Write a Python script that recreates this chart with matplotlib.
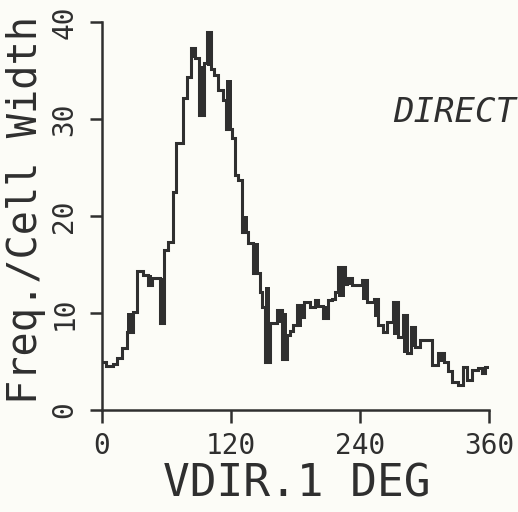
import matplotlib.pyplot as plt

# step histogram (degrees / freq per cell width)
edges = [0, 3.5, 10, 14, 18.5, 23.5, 29, 32.5, 38, 43, 46.5, 54, 57.5, 61.5,
         66, 69, 75.5, 79, 83, 86.5, 90, 95, 97.5, 101.5, 104, 108, 112.5,
         115.5, 121, 123.5, 126.5, 130, 136, 140.5, 147, 149, 151.5, 156.5,
         163, 167.5, 172, 175, 177.5, 181.5, 186, 188, 193.5, 198, 201, 205.5,
         210, 214, 216.5, 219.5, 226, 228, 232.5, 242, 246.5, 253, 256.5,
         261.5, 265, 270.5, 275.5, 280, 283.5, 287.5, 291, 296, 307, 312.5,
         318, 322, 325.5, 331, 336, 339.5, 344, 350, 353.5, 356.5, 360]
freq = [5.0, 4.5, 4.8, 5.4, 6.4, 8.0, 10.1, 14.3, 13.9, 12.9, 13.6, 9.0, 16.5,
        17.3, 22.5, 27.5, 32.2, 34.3, 37.3, 36.3, 30.4, 35.8, 39.0, 35.2, 34.5,
        33.0, 32.0, 29.0, 28.0, 24.2, 23.7, 18.4, 17.2, 14.1, 12.2, 10.6, 5.0,
        9.0, 10.3, 5.3, 7.7, 8.2, 8.8, 10.8, 9.6, 11.1, 10.6, 11.3, 10.7, 9.5,
        11.3, 11.5, 12.2, 14.7, 13.0, 13.6, 12.9, 13.4, 11.1, 11.5, 8.8, 8.0,
        9.1, 11.1, 7.5, 9.8, 5.9, 8.6, 6.5, 7.2, 4.6, 5.9, 5.0, 4.0, 2.9, 2.6,
        4.4, 3.1, 4.1, 4.3, 3.8, 4.4]

# places where the pen went back and forth (drawn solid)
dense_left = [23.5, 43, 54, 83, 90, 97.5, 115.5, 130, 140.5, 151.5, 163,
              167.5, 181.5, 198, 205.5, 219.5, 228, 242, 253, 270.5, 280,
              287.5, 312.5]
dense_right = [29, 46.5, 57.5, 86.5, 95, 101.5, 121, 136, 146, 156.5, 167.5,
               172, 186, 201, 210, 226, 232.5, 246.5, 256.5, 275.5, 283.5,
               291, 318]
dense_low = [8.0, 12.9, 9.0, 36.3, 30.4, 35.5, 29.0, 18.4, 14.2, 5.0, 9.0,
             5.3, 8.6, 10.7, 9.5, 11.7, 12.9, 11.3, 9.6, 7.7, 5.9, 6.5, 5.0]
dense_high = [10.0, 13.9, 13.6, 37.3, 35.5, 39.0, 34.0, 20.0, 17.2, 12.7,
              10.3, 10.0, 10.8, 11.3, 10.7, 14.7, 13.6, 13.4, 11.5, 11.1,
              9.8, 8.6, 5.9]

xticks = [0, 120, 240, 360]
yticks = [0, 10, 20, 30, 40]

ink = "#2f2f2f"
paper = "#fcfcf7"
mono = "DejaVu Sans Mono"

fig = plt.figure(figsize=(5.18, 5.12), dpi=100, facecolor=paper)
ax = fig.add_axes([0.197, 0.199, 0.747, 0.758], facecolor=paper)

ax.stairs(freq, edges, baseline=None, color=ink, linewidth=2.2)
ax.bar(x=dense_left,
       height=[h - l for l, h in zip(dense_low, dense_high)],
       width=[r - l for l, r in zip(dense_left, dense_right)],
       bottom=dense_low,
       align="edge", color=ink, linewidth=0)

ax.set_xlim(0, 360)
ax.set_ylim(0, 40)
ax.set_xticks(xticks)
ax.set_yticks(yticks)
ax.set_xticklabels([str(t) for t in xticks], fontsize=20, family=mono, color=ink)
ax.set_yticklabels([str(t) for t in yticks], fontsize=20, family=mono, color=ink,
                   rotation=90, va="center")

ax.spines["top"].set_visible(False)
ax.spines["right"].set_visible(False)
for s in ("left", "bottom"):
    ax.spines[s].set_linewidth(1.8)
    ax.spines[s].set_color(ink)
ax.tick_params(direction="out", length=9, width=1.8, color=ink)
ax.tick_params(axis="x", pad=7)
ax.tick_params(axis="y", pad=8)

ax.set_xlabel("VDIR.1 DEG", fontsize=32, family=mono, color=ink)
ax.xaxis.set_label_coords(0.504, -0.135)
ax.set_ylabel("Freq./Cell Width", fontsize=29, family=mono, color=ink)
ax.yaxis.set_label_coords(-0.145, 0.515)

fig.text(393 / 518, 1 - 122 / 512, "DIRECT", fontsize=24.5, family=mono,
         style="italic", color=ink, va="baseline", ha="left")

fig.savefig("out.png", dpi=100, facecolor=paper)
